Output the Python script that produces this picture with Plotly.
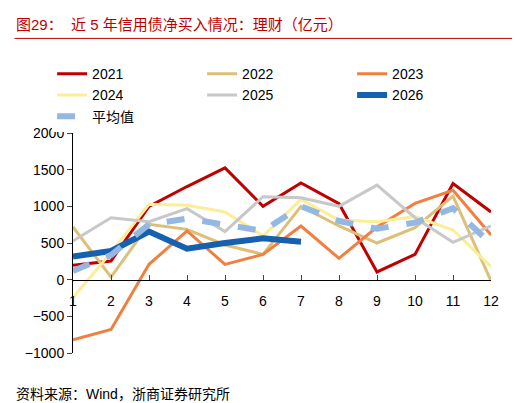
import plotly.graph_objects as go

months = [str(i) for i in range(1, 13)]
y2021 = [195, 255, 1000, 1270, 1525, 1000, 1318, 1036, 105, 345, 1310, 923]
y2022 = [718, 36, 755, 686, 473, 345, 1000, 732, 500, 709, 1140, -18]
y2023 = [-820, -680, 209, 664, 209, 345, 732, 291, 718, 1040, 1218, 610]
y2024 = [-245, 370, 1027, 1014, 923, 595, 1095, 814, 791, 860, 677, 177]
y2025 = [527, 845, 791, 968, 655, 1132, 1118, 1000, 1290, 845, 509, 732]
y2026 = [314, 391, 655, 423, 500, 564, 518]
avg = [118, 336, 755, 832, 750, 664, 1000, 800, 695, 777, 973, 491]

fig = go.Figure()
series = [
    ("2021", y2021, "#C00000", 3, "solid"),
    ("2022", y2022, "#DDBF77", 3, "solid"),
    ("2023", y2023, "#F08040", 3, "solid"),
    ("2024", y2024, "#FAEE98", 3, "solid"),
    ("2025", y2025, "#C8C8C8", 3, "solid"),
    ("2026", y2026, "#1660B0", 6, "solid"),
    ("平均值", avg, "#95B8E2", 6, "dash"),
]
for name, ys, color, w, dash in series:
    fig.add_trace(go.Scatter(x=months[:len(ys)], y=ys, name=name, mode="lines",
                             line=dict(color=color, width=w, dash=dash)))

fig.update_layout(
    width=520, height=403, plot_bgcolor="white", paper_bgcolor="white",
    margin=dict(l=65, r=37, t=125, b=58),
    font=dict(family="Liberation Sans, Noto Sans CJK SC", size=14, color="black"),
    legend=dict(orientation="h", x=-0.05, y=1.34, xanchor="left", yanchor="top",
                entrywidth=105, font=dict(size=14)),
    xaxis=dict(type="category", showline=True, linecolor="black", ticks="inside",
               showgrid=False, anchor="free", position=0.333, ticklabelstandoff=8),
    yaxis=dict(range=[-1000, 2000], dtick=500, showline=True, linecolor="black",
               ticks="outside", showgrid=False, zeroline=False),
    annotations=[
        dict(text="图29：  近 5 年信用债净买入情况：理财（亿元）", x=-0.14, y=1.54, xref="paper",
             yref="paper", xanchor="left", yanchor="top", showarrow=False,
             font=dict(color="#C00000", size=15)),
        dict(text="资料来源：Wind，浙商证券研究所", x=-0.14, y=-0.14, xref="paper",
             yref="paper", xanchor="left", yanchor="top", showarrow=False,
             font=dict(size=14)),
    ],
    shapes=[dict(type="line", xref="paper", yref="paper", x0=-0.14, x1=1.08,
                 y0=1.43, y1=1.43, line=dict(color="#C00000", width=1))],
)
fig.write_html("out.html")
